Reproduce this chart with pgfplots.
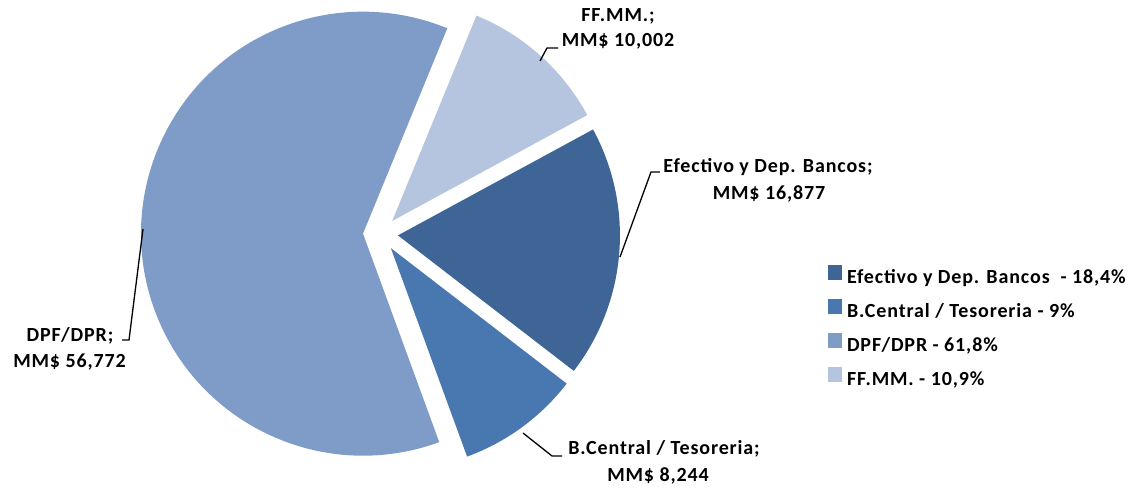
\documentclass[border=0pt]{standalone}
\usepackage{pgfplots}
\usepackage{pgfplotstable}
\pgfplotsset{compat=1.18}
\usepackage{xfp}
\usepackage{fontspec}
\setmainfont{Carlito}[LetterSpace=4.4]
\definecolor{cEf}{HTML}{3E6595}
\definecolor{cBC}{HTML}{4978B1}
\definecolor{cDP}{HTML}{7F9CC8}
\definecolor{cFF}{HTML}{B5C4DF}
\newcommand\lab{\fontsize{20bp}{25.5bp}\selectfont\bfseries}

\pgfplotstableread[col sep=comma]{
name,value,color
Efectivo,16877,cEf
BCentral,8244,cBC
DPF,56772,cDP
FFMM,10002,cFF
}\piedata

\begin{document}
\begin{tikzpicture}
\begin{axis}[
  scale only axis, width=1136bp, height=489bp,
  xmin=0, xmax=1136, ymin=0, ymax=489,
  hide axis, clip=false,
  legend style={at={(axis cs:828,224)}, anchor=north west, draw=none, fill=none,
    inner sep=0pt, outer sep=0pt, font=\lab, row sep=11.5bp,
    nodes={inner sep=0pt, text height=13bp, text depth=4bp},
    /tikz/every odd column/.style={column sep=5bp}},
  legend cell align=left,
  legend image code/.code={\fill[#1] (0bp,-1bp) rectangle (14bp,14bp);},
]
\edef\total{0}
\pgfplotsforeachungrouped \i in {0,...,3}{%
  \pgfplotstablegetelem{\i}{value}\of\piedata
  \edef\total{\fpeval{\total+\pgfplotsretval}}%
}
\edef\cur{28.5}
\pgfplotsforeachungrouped \i in {0,...,3}{%
  \pgfplotstablegetelem{\i}{value}\of\piedata
  \edef\e{\fpeval{\cur-360*\pgfplotsretval/\total}}%
  \edef\m{\fpeval{(\cur+\e)/2}}%
  \edef\vx{\fpeval{380.5+17.5*cosd(\m)}}%
  \edef\vy{\fpeval{255+17.5*sind(\m)}}%
  \pgfplotstablegetelem{\i}{color}\of\piedata
  \edef\temp{\noexpand\fill[\pgfplotsretval] (axis cs:\vx,\vy) -- ++(\cur:222bp) arc[start angle=\cur, end angle=\e, radius=222bp] -- cycle;}%
  \temp
  \edef\cur{\e}%
}
\addlegendimage{fill=cEf, draw=none}
\addlegendentry{Efectivo y Dep. Bancos\ \ - 18,4\%}
\addlegendimage{fill=cBC, draw=none}
\addlegendentry{B.Central / Tesoreria - 9\%}
\addlegendimage{fill=cDP, draw=none}
\addlegendentry{DPF/DPR - 61,8\%}
\addlegendimage{fill=cFF, draw=none}
\addlegendentry{FF.MM. - 10,9\%}

\draw[black, line width=1.3bp] (axis cs:540,428) -- (axis cs:547,441) -- (axis cs:558,441);
\draw[black, line width=1.3bp] (axis cs:620,232) -- (axis cs:651,317) -- (axis cs:660,317);
\draw[black, line width=1.3bp] (axis cs:523,56) -- (axis cs:552,33) -- (axis cs:562,33);
\draw[black, line width=1.3bp] (axis cs:143,260) -- (axis cs:129,149) -- (axis cs:122,149);

\node[font=\lab, anchor=base, inner sep=0pt] at (axis cs:618,467) {FF.MM.;};
\node[font=\lab, anchor=base, inner sep=0pt] at (axis cs:618,442) {MM\$ 10,002};
\node[font=\lab, anchor=base, inner sep=0pt] at (axis cs:768,316) {Efectivo y Dep. Bancos;};
\node[font=\lab, anchor=base, inner sep=0pt] at (axis cs:769,289) {MM\$ 16,877};
\node[font=\lab, anchor=base, inner sep=0pt] at (axis cs:664,34) {B.Central / Tesoreria;};
\node[font=\lab, anchor=base, inner sep=0pt] at (axis cs:658,7) {MM\$ 8,244};
\node[font=\lab, anchor=base, inner sep=0pt] at (axis cs:70,147) {DPF/DPR;};
\node[font=\lab, anchor=base, inner sep=0pt] at (axis cs:69.5,121) {MM\$ 56,772};
\end{axis}
\pgfresetboundingbox
\path (0,0) rectangle (1136bp,489bp);
\end{tikzpicture}
\end{document}
